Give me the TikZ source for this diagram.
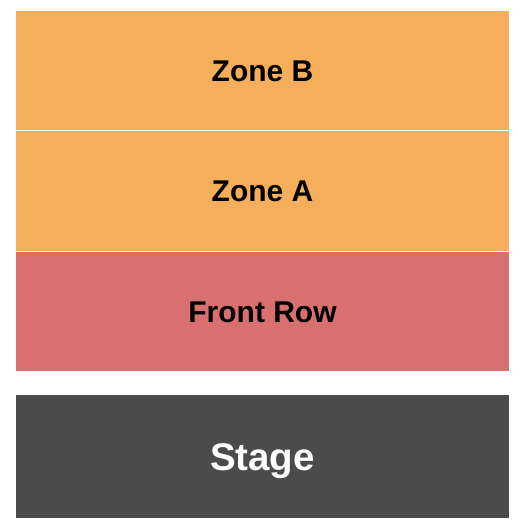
\documentclass[tikz,border=0pt]{standalone}
\usepackage{fontspec}
\setmainfont{Liberation Sans}
\usetikzlibrary{positioning}
\definecolor{zone}{HTML}{F5AE5A}
\definecolor{front}{HTML}{D97070}
\definecolor{stage}{HTML}{4B4B4B}
\tikzset{%
  section/.style={rectangle,inner sep=0pt,minimum width=493pt,
    text height=21.5pt,text depth=0pt,font=\bfseries\fontsize{30}{36}\selectfont},
  stagebox/.style={section,text=white,text height=27.5pt,
    font=\bfseries\fontsize{38.5}{46}\selectfont},
}
\begin{document}
\begin{tikzpicture}[x=1pt,y=-1pt]
    \useasboundingbox (0,0) rectangle (525,525);

    \node[section,fill=zone,minimum height=119pt] (zoneb) at (262.5,70.5) {Zone B};
    \node[section,fill=zone,minimum height=119.5pt] (zonea) at (262.5,190.75) {Zone A};
    \node[section,fill=front,minimum height=119.5pt] (frontrow) at (262.5,311.25) {Front Row};
    \node[stagebox,fill=stage,minimum height=123pt] (stage) at (262.5,456.5) {Stage};
  \end{tikzpicture}
\end{document}
